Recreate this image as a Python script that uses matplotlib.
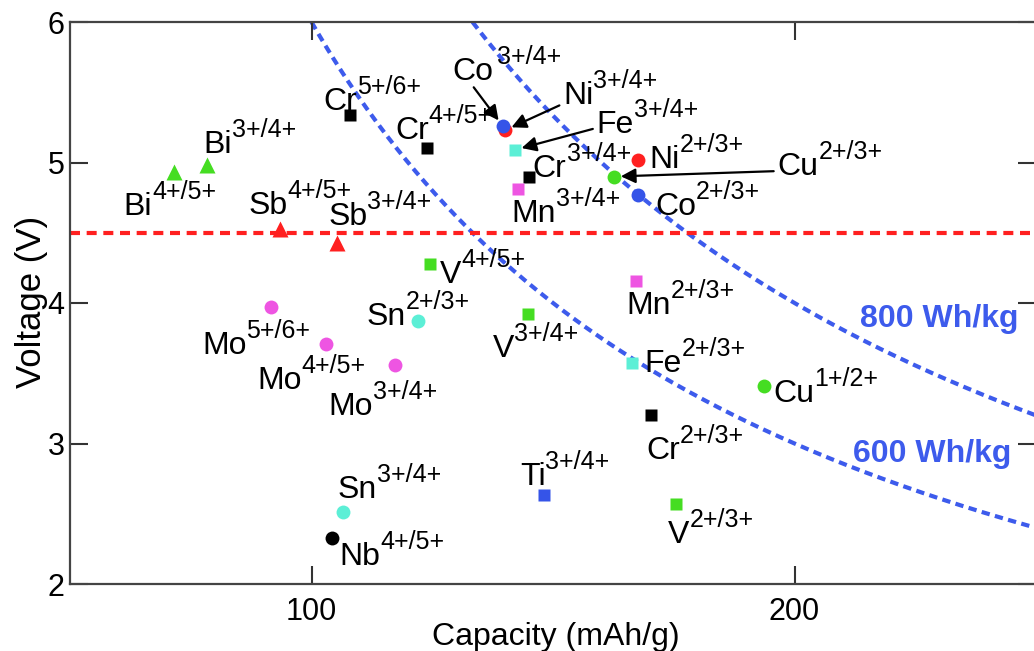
import matplotlib
matplotlib.use("Agg")
import matplotlib.pyplot as plt
import numpy as np

plt.rcParams["font.family"] = ["Liberation Sans", "DejaVu Sans"]

# redox couples: element, couple, capacity (mAh/g), voltage (V)
elements = ["Bi", "Bi", "Sb", "Sb", "Cr", "Cr", "Ni", "Co", "Fe", "Cr",
            "Mn", "Ni", "Cu", "Co", "V", "Sn", "Mo", "Mo", "Mo", "V",
            "Mn", "Fe", "Cu", "Cr", "Ti", "V", "Sn", "Nb"]
couples = ["4+/5+", "3+/4+", "4+/5+", "3+/4+", "5+/6+", "4+/5+", "3+/4+", "3+/4+", "3+/4+", "3+/4+",
           "3+/4+", "2+/3+", "2+/3+", "2+/3+", "4+/5+", "2+/3+", "5+/6+", "4+/5+", "3+/4+", "3+/4+",
           "2+/3+", "2+/3+", "1+/2+", "2+/3+", "3+/4+", "2+/3+", "3+/4+", "4+/5+"]
capacity = [71.5, 78.4, 93.5, 105.3, 108.0, 123.9, 140.1, 139.6, 142.1, 145.0,
            142.8, 167.6, 162.6, 167.6, 124.5, 122.0, 91.6, 103.0, 117.3, 144.8,
            167.2, 166.4, 193.7, 170.3, 148.1, 175.5, 106.5, 104.2]
voltage = [4.93, 4.98, 4.53, 4.43, 5.34, 5.10, 5.23, 5.26, 5.09, 4.90,
           4.81, 5.02, 4.90, 4.77, 4.28, 3.87, 3.97, 3.71, 3.56, 3.92,
           4.16, 3.57, 3.41, 3.20, 2.63, 2.57, 2.51, 2.33]

energies = [600, 800]   # Wh/kg iso-energy lines
v_limit = 4.5           # electrolyte stability limit

GREEN = "#45dd22"
RED = "#ff2020"
BLUE = "#3554e8"
CYAN = "#5cefd6"
MAGENTA = "#ee55e2"
LINE_BLUE = "#3d5bec"

STYLE = {"Bi": ("^", GREEN), "Sb": ("^", RED), "Cr": ("s", "k"), "Co": ("o", BLUE),
         "Ni": ("o", RED), "Fe": ("s", CYAN), "Mn": ("s", MAGENTA), "Cu": ("o", GREEN),
         "V": ("s", GREEN), "Sn": ("o", CYAN), "Mo": ("o", MAGENTA), "Ti": ("s", BLUE),
         "Nb": ("o", "k")}
MSIZE = {"^": 11, "o": 10, "s": 8}

# label offsets in pixels (left / baseline of label relative to marker)
OFFSETS = [(-50, -43), (-4, 12), (-32, 15), (-9, 18), (-27, 5), (-32, 9), (58, 26), (-50, 46), (82, 17), (4, 0),
           (-7, -33), (11, -8), (164, 2), (17, -20), (10, -19), (-51, -4), (-69, -47), (-69, -45), (-67, -50), (-35, -43),
           (-10, -33), (12, -9), (9, -16), (-5, -44), (-24, 10), (-8, -39), (-5, 14), (8, -27)]
# arrows: index -> relative start position on the label box
ARROWS = {6: (0.0, 0.25), 7: (0.45, 0.1), 8: (0.0, 0.4), 12: (0.0, 0.35)}
SUP_RAISE = 16   # pixels between main baseline and superscript baseline

fig = plt.figure(figsize=(10.34, 6.51), dpi=100)
ax = fig.add_axes([70 / 1034, 1 - 584 / 651, (1036 - 70) / 1034, (584 - 22) / 651])

for e in energies:
    c = np.linspace(e / 6.0, 250, 300)
    ax.plot(c, e / c, color=LINE_BLUE, lw=3, ls=(0, (2.0, 1.3)), zorder=1)
ax.axhline(v_limit, color=RED, lw=3, ls=(0, (2.4, 1.6)), zorder=1)

for i, (el, cp, x, y) in enumerate(zip(elements, couples, capacity, voltage)):
    mk, col = STYLE[el]
    ax.plot(x, y, marker=mk, ms=MSIZE[mk], color=col, mec="none", ls="none", zorder=3)
    dx, dy = OFFSETS[i]
    kw = {}
    if i in ARROWS:
        kw["arrowprops"] = dict(arrowstyle="-|>", color="k", lw=1.6, mutation_scale=22,
                                shrinkA=3, shrinkB=5, relpos=ARROWS[i], patchA=None)
    main = ax.annotate(el, xy=(x, y), xytext=(dx, dy), textcoords="offset pixels",
                       ha="left", va="baseline", fontsize=23, zorder=4, **kw)
    ax.annotate(cp, xy=(1, y), xycoords=(main, "data"), xytext=(0, dy + SUP_RAISE),
                textcoords="offset pixels", ha="left", va="baseline", fontsize=18, zorder=4)

ax.text(213.6, 3.83, "800 Wh/kg", color=LINE_BLUE, fontsize=23, fontweight="bold",
        ha="left", va="baseline")
ax.text(212.1, 2.87, "600 Wh/kg", color=LINE_BLUE, fontsize=23, fontweight="bold",
        ha="left", va="baseline")

ax.set_xlim(50, 250)
ax.set_ylim(2, 6)
ax.set_xticks([100, 200])
ax.set_yticks([2, 3, 4, 5, 6])
ax.tick_params(direction="in", top=True, right=True, length=13, width=1.5,
               labelsize=22, color="#333333")
ax.tick_params(axis="x", pad=9)
ax.tick_params(axis="y", pad=4)
for s in ax.spines.values():
    s.set_linewidth(1.6)
    s.set_color("#444444")

fig.text(32 / 1034, 1 - 302 / 651, "Voltage (V)", rotation=90, ha="center", va="center",
         fontsize=25)
fig.text(556 / 1034, 1 - 645 / 651, "Capacity (mAh/g)", ha="center", va="baseline",
         fontsize=23)

fig.savefig("out.png", dpi=100, facecolor="white")
